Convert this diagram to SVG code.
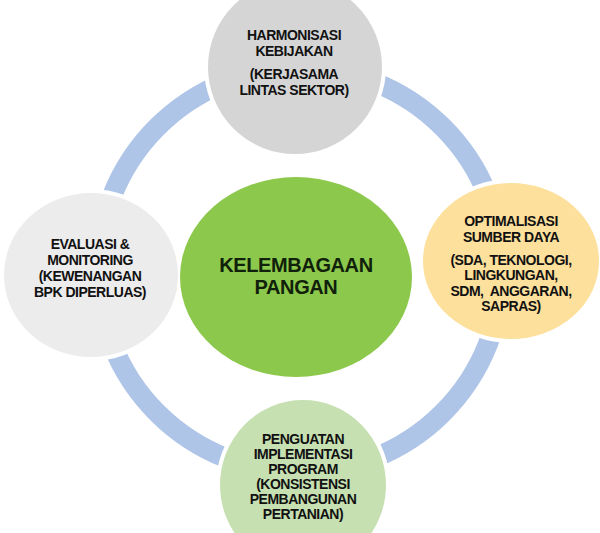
<svg xmlns="http://www.w3.org/2000/svg" width="600" height="533" viewBox="0 0 600 533">
<style>
.t{font-family:"Liberation Sans",Arial,sans-serif;font-weight:bold;font-size:14px;letter-spacing:-0.5px;fill:#111;text-anchor:middle}
.c{font-family:"Liberation Sans",Arial,sans-serif;font-weight:bold;font-size:20px;letter-spacing:-0.4px;fill:#10200a;text-anchor:middle}
.n{stroke:#fff;stroke-width:4}
</style>
<rect width="600" height="533" fill="#fff"/>
<g id="connectors">
<circle cx="300" cy="270" r="202" fill="none" stroke="#aec5e8" stroke-width="20"/>
</g>
<g id="top">
<ellipse class="n" cx="295" cy="67" rx="89" ry="89" fill="#d5d5d5"/>
<text class="t" x="294" y="40">HARMONISASI</text>
<text class="t" x="294" y="56">KEBIJAKAN</text>
<text class="t" x="294" y="79">(KERJASAMA</text>
<text class="t" x="294" y="95">LINTAS SEKTOR)</text>
</g>
<g id="left">
<ellipse class="n" cx="91" cy="275" rx="89" ry="84" fill="#ececec"/>
<text class="t" x="90" y="249">EVALUASI &amp;</text>
<text class="t" x="90" y="265">MONITORING</text>
<text class="t" x="90" y="281">(KEWENANGAN</text>
<text class="t" x="90" y="297">BPK DIPERLUAS)</text>
</g>
<g id="right">
<ellipse class="n" cx="511" cy="261" rx="90" ry="80" fill="#fce09c"/>
<text class="t" x="511" y="226">OPTIMALISASI</text>
<text class="t" x="511" y="242">SUMBER DAYA</text>
<text class="t" x="511" y="265">(SDA, TEKNOLOGI,</text>
<text class="t" x="511" y="280">LINGKUNGAN,</text>
<text class="t" x="511" y="296" xml:space="preserve">SDM,  ANGGARAN,</text>
<text class="t" x="511" y="311">SAPRAS)</text>
</g>
<g id="bottom">
<ellipse class="n" cx="303" cy="485" rx="85" ry="87" fill="#c6e0b2"/>
<text class="t" x="303" y="444">PENGUATAN</text>
<text class="t" x="303" y="459">IMPLEMENTASI</text>
<text class="t" x="303" y="474">PROGRAM</text>
<text class="t" x="303" y="489">(KONSISTENSI</text>
<text class="t" x="303" y="504">PEMBANGUNAN</text>
<text class="t" x="303" y="519">PERTANIAN)</text>
</g>
<g id="center">
<ellipse cx="296" cy="277" rx="116" ry="100" fill="#8cc84c"/>
<text class="c" x="296" y="272">KELEMBAGAAN</text>
<text class="c" x="296" y="294">PANGAN</text>
</g>
</svg>
